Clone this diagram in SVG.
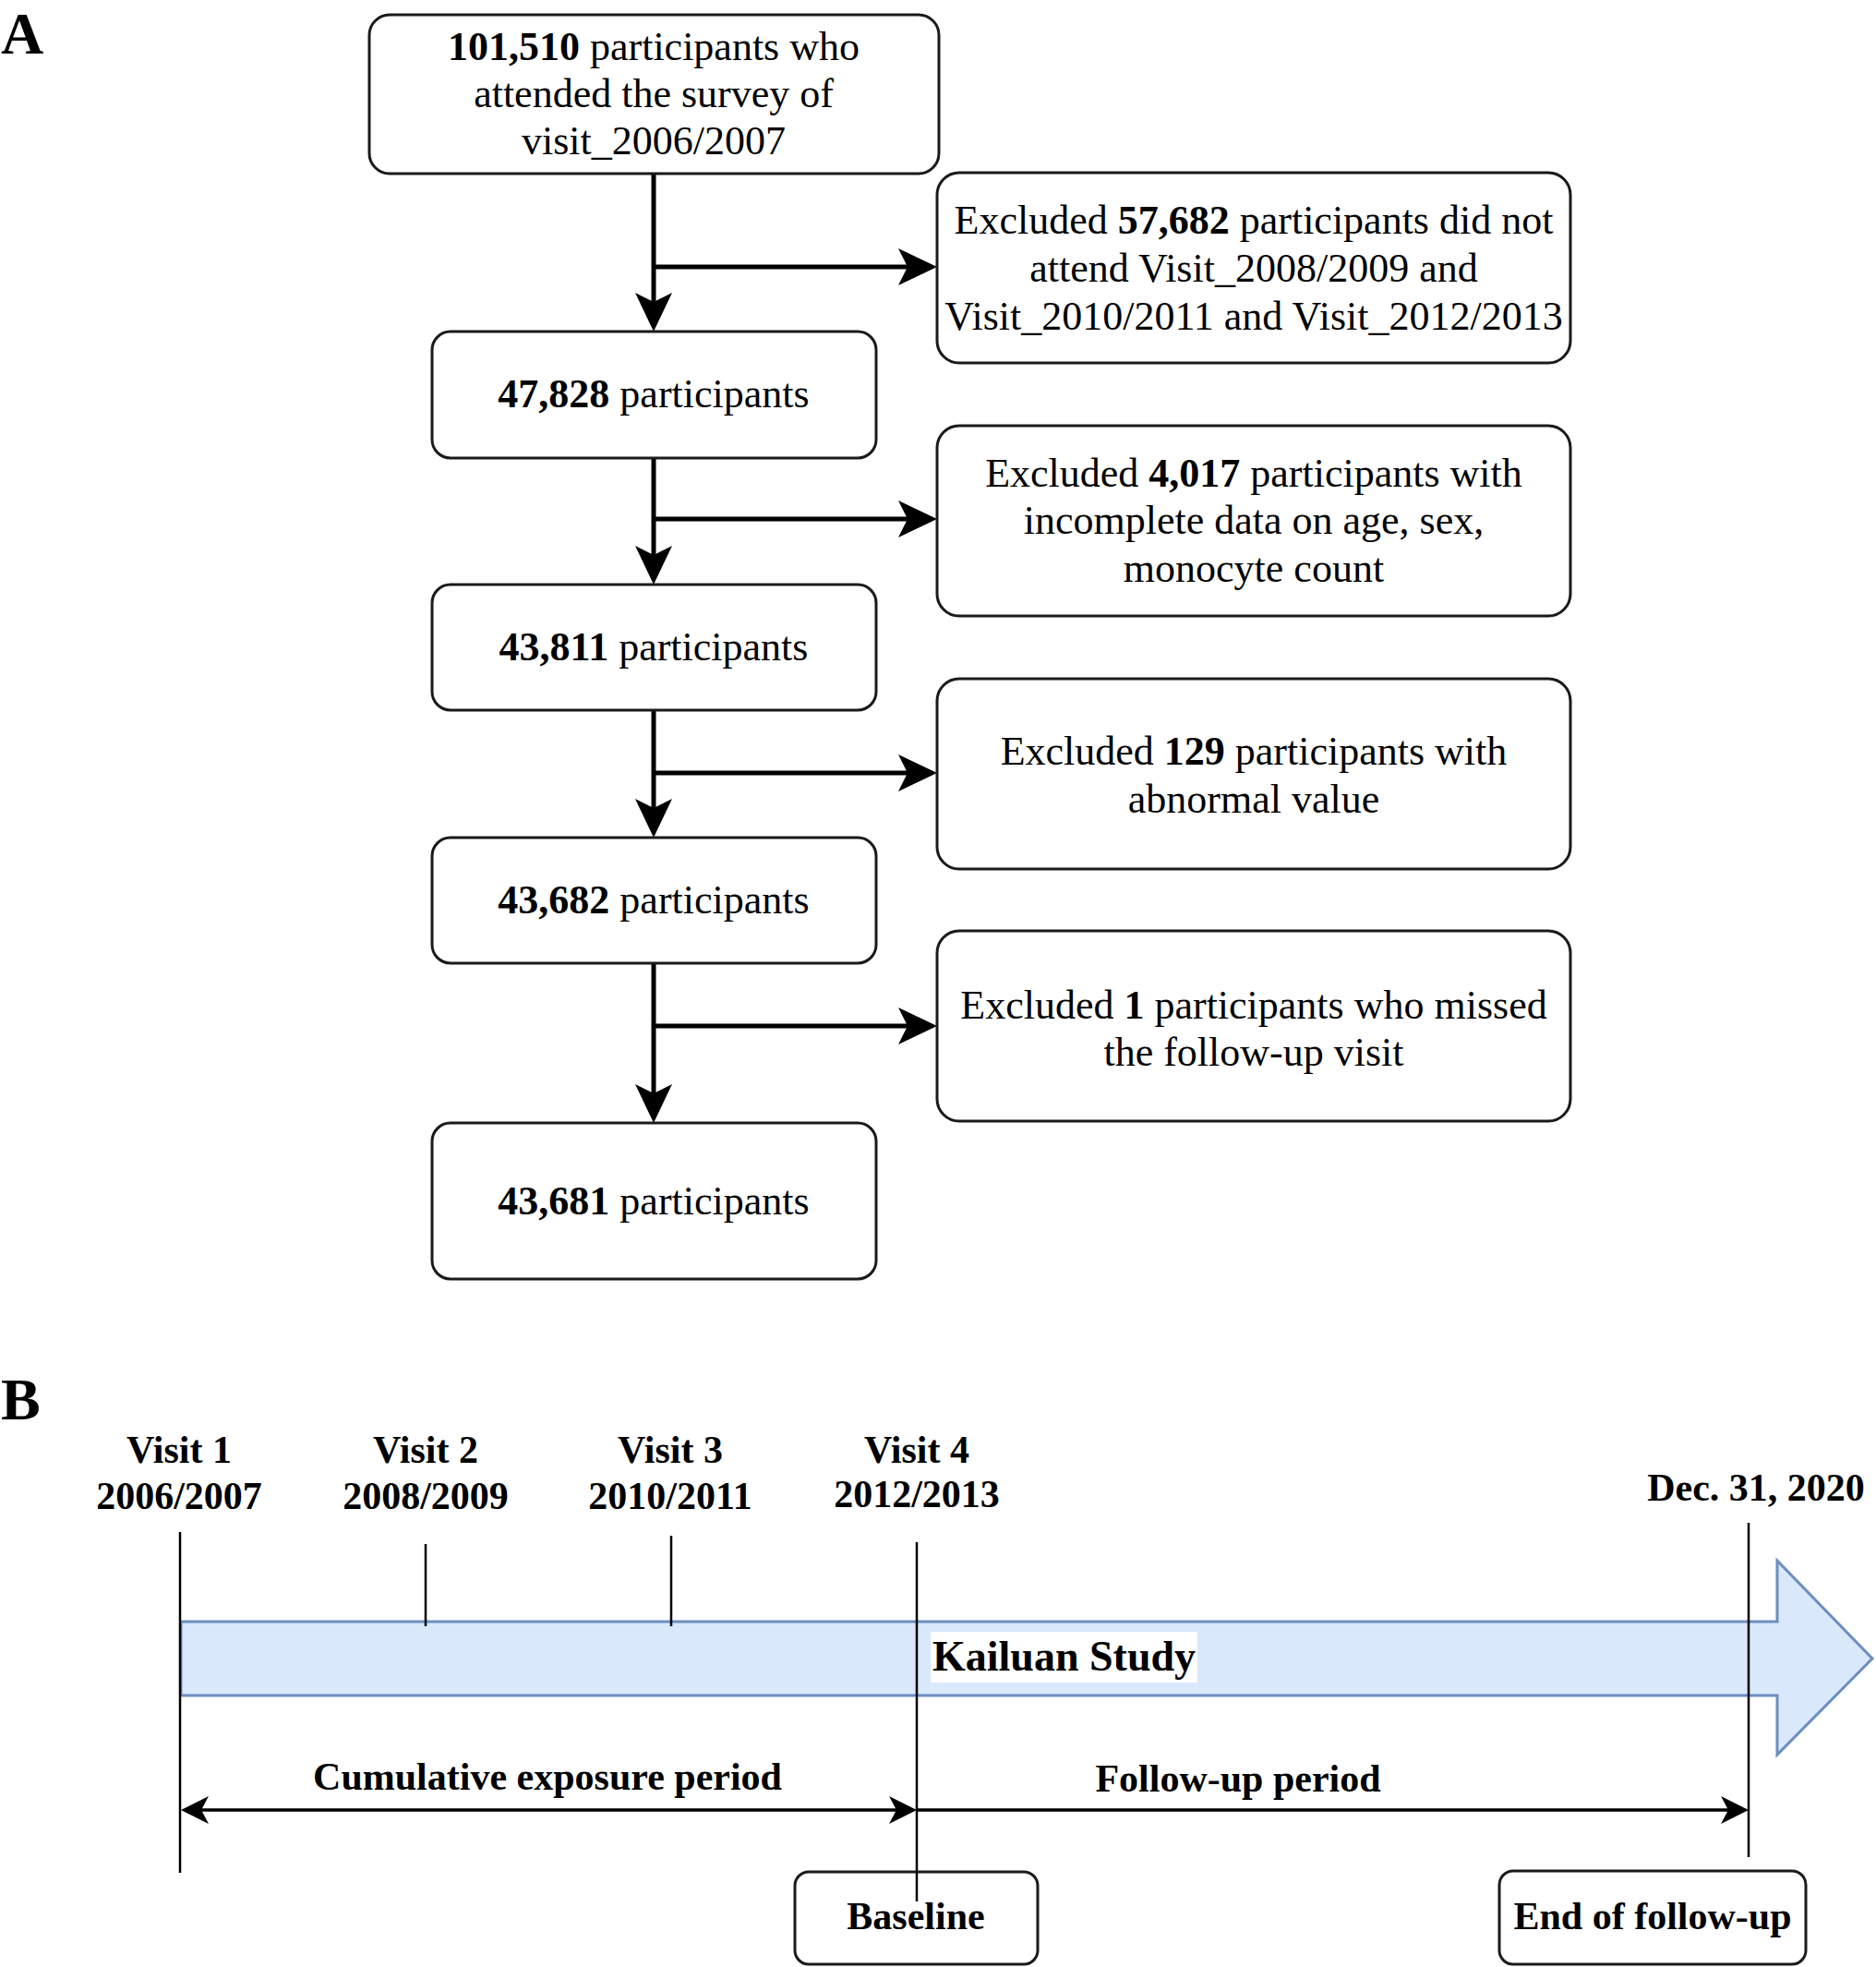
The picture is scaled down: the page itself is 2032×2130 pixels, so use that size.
<svg xmlns="http://www.w3.org/2000/svg" width="2032" height="2130" viewBox="0 0 2032 2130">
<style>
  text { font-family: "Liberation Serif", "Times New Roman", serif; fill: #000; }
  .t { font-size: 44px; text-anchor: middle; }
  .b { font-weight: bold; }
  .tb { font-size: 42px; font-weight: bold; text-anchor: middle; }
  .box { fill: #fff; stroke: #1a1a1a; stroke-width: 3; }
  .ca { stroke: #000; fill: none; stroke-width: 5; }
  .cb { stroke: #000; fill: none; stroke-width: 3.5; }
  .tick { stroke: #000; fill: none; stroke-width: 2.5; }
  .panel { font-size: 64px; font-weight: bold; }
</style>
<defs>
  <marker id="arrA" markerUnits="userSpaceOnUse" viewBox="0 0 42 40" refX="10" refY="20" markerWidth="42" markerHeight="40" orient="auto">
    <path d="M0,0 L42,20 L0,40 L10,20 Z" fill="#000"/>
  </marker>
  <marker id="arrB" markerUnits="userSpaceOnUse" viewBox="0 0 30 30" refX="8" refY="15" markerWidth="30" markerHeight="30" orient="auto-start-reverse">
    <path d="M0,0 L30,15 L0,30 L8,15 Z" fill="#000"/>
  </marker>
</defs>

<text class="panel" x="1" y="58">A</text>
<text class="panel" x="1" y="1537">B</text>

<g id="connectors">
  <line class="ca" x1="708" y1="188" x2="708" y2="327" marker-end="url(#arrA)"/>
  <line class="ca" x1="708" y1="289" x2="983" y2="289" stroke-width="7" marker-end="url(#arrA)"/>
  <line class="ca" x1="708" y1="496" x2="708" y2="601" marker-end="url(#arrA)"/>
  <line class="ca" x1="708" y1="562" x2="983" y2="562" marker-end="url(#arrA)"/>
  <line class="ca" x1="708" y1="769" x2="708" y2="875" marker-end="url(#arrA)"/>
  <line class="ca" x1="708" y1="837" x2="983" y2="837" marker-end="url(#arrA)"/>
  <line class="ca" x1="708" y1="1043" x2="708" y2="1184" marker-end="url(#arrA)"/>
  <line class="ca" x1="708" y1="1111" x2="983" y2="1111" marker-end="url(#arrA)"/>
</g>

<g id="n1">
  <rect class="box" x="400" y="16" width="617" height="172" rx="22"/>
  <text class="t" x="708" y="65"><tspan class="b">101,510</tspan> participants who</text>
  <text class="t" x="708" y="116">attended the survey of</text>
  <text class="t" x="708" y="167">visit_2006/2007</text>
</g>
<g id="n2">
  <rect class="box" x="1015" y="187" width="686" height="206" rx="24"/>
  <text class="t" x="1358" y="253">Excluded <tspan class="b">57,682</tspan> participants did not</text>
  <text class="t" x="1358" y="305">attend Visit_2008/2009 and</text>
  <text class="t" x="1358" y="357">Visit_2010/2011 and Visit_2012/2013</text>
</g>
<g id="n3">
  <rect class="box" x="468" y="359" width="481" height="137" rx="20"/>
  <text class="t" x="708" y="441"><tspan class="b">47,828</tspan> participants</text>
</g>
<g id="n4">
  <rect class="box" x="1015" y="461" width="686" height="206" rx="24"/>
  <text class="t" x="1358" y="527">Excluded <tspan class="b">4,017</tspan> participants with</text>
  <text class="t" x="1358" y="578">incomplete data on age, sex,</text>
  <text class="t" x="1358" y="630">monocyte count</text>
</g>
<g id="n5">
  <rect class="box" x="468" y="633" width="481" height="136" rx="20"/>
  <text class="t" x="708" y="715"><tspan class="b">43,811</tspan> participants</text>
</g>
<g id="n6">
  <rect class="box" x="1015" y="735" width="686" height="206" rx="24"/>
  <text class="t" x="1358" y="828">Excluded <tspan class="b">129</tspan> participants with</text>
  <text class="t" x="1358" y="880">abnormal value</text>
</g>
<g id="n7">
  <rect class="box" x="468" y="907" width="481" height="136" rx="20"/>
  <text class="t" x="708" y="989"><tspan class="b">43,682</tspan> participants</text>
</g>
<g id="n8">
  <rect class="box" x="1015" y="1008" width="686" height="206" rx="24"/>
  <text class="t" x="1358" y="1103">Excluded <tspan class="b">1</tspan> participants who missed</text>
  <text class="t" x="1358" y="1154">the follow-up visit</text>
</g>
<g id="n9">
  <rect class="box" x="468" y="1216" width="481" height="169" rx="20"/>
  <text class="t" x="708" y="1315"><tspan class="b">43,681</tspan> participants</text>
</g>

<g id="timeline">
  <polygon points="196,1756 1925,1756 1925,1690 2028,1796 1925,1900 1925,1836 196,1836" fill="#dae8fc" stroke="#6c8ebf" stroke-width="3"/>
  <rect x="1008" y="1767" width="289" height="55" fill="#fff"/>
  <text x="1010" y="1809" font-size="46" font-weight="bold">Kailuan Study</text>

  <line class="tick" x1="195" y1="1659" x2="195" y2="2028"/>
  <line class="tick" x1="461" y1="1672" x2="461" y2="1761"/>
  <line class="tick" x1="727" y1="1663" x2="727" y2="1761"/>
  <line class="tick" x1="993" y1="1670" x2="993" y2="2059"/>
  <line class="tick" x1="1894" y1="1649" x2="1894" y2="2011"/>

  <text class="tb" x="194" y="1584">Visit 1</text>
  <text class="tb" x="194" y="1634">2006/2007</text>
  <text class="tb" x="461" y="1584">Visit 2</text>
  <text class="tb" x="461" y="1634">2008/2009</text>
  <text class="tb" x="726" y="1584">Visit 3</text>
  <text class="tb" x="726" y="1634">2010/2011</text>
  <text class="tb" x="993" y="1584">Visit 4</text>
  <text class="tb" x="993" y="1632">2012/2013</text>
  <text class="tb" x="1902" y="1625">Dec. 31, 2020</text>

  <text class="tb" x="593" y="1938">Cumulative exposure period</text>
  <text class="tb" x="1341" y="1940">Follow-up period</text>
</g>

<g id="connectors-b">
  <line class="cb" x1="218" y1="1960" x2="971" y2="1960" marker-start="url(#arrB)" marker-end="url(#arrB)"/>
  <line class="cb" x1="993" y1="1960" x2="1872" y2="1960" marker-end="url(#arrB)"/>
</g>

<g id="baseline">
  <rect class="box" x="861" y="2027" width="263" height="100" rx="15"/>
  <line class="tick" x1="993" y1="2027" x2="993" y2="2059"/>
  <text class="tb" x="992" y="2089">Baseline</text>
</g>
<g id="end">
  <rect class="box" x="1624" y="2026" width="332" height="101" rx="15"/>
  <text class="tb" x="1790" y="2089">End of follow-up</text>
</g>
</svg>
